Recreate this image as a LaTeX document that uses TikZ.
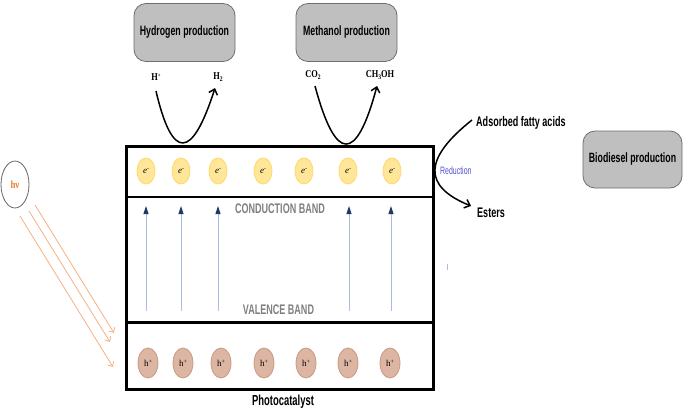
\documentclass[tikz,border=0pt]{standalone}
\usepackage{fontspec}
\setmainfont{Liberation Serif}
\newfontfamily\nsans[FakeStretch=0.65]{Liberation Sans}
\newfontfamily\tnarrow[FakeStretch=0.8]{Liberation Serif}
\usetikzlibrary{shapes.geometric,arrows.meta}
\definecolor{boxgray}{HTML}{BFBFBF}
\definecolor{boxedge}{HTML}{6E6E6E}
\definecolor{efill}{HTML}{FFE699}
\definecolor{eedge}{HTML}{FFD966}
\definecolor{hfill}{HTML}{DDB5A3}
\definecolor{hedge}{HTML}{C79B85}
\definecolor{arrline}{HTML}{A9BDE0}
\definecolor{arrhead}{HTML}{1F3864}
\definecolor{bandgray}{HTML}{7F7F7F}
\definecolor{redblue}{HTML}{5050D0}
\definecolor{orline}{HTML}{F4B183}
\definecolor{ortext}{HTML}{ED7D31}
\tikzset{
  procbox/.style={draw=boxedge, fill=boxgray, rounded corners=12pt, line width=0.8pt,
    minimum width=101pt, minimum height=58pt, inner sep=0pt, font=\nsans\bfseries\fontsize{13.5}{14}\selectfont},
  electron/.style={ellipse, draw=eedge, fill=efill, line width=0.8pt, minimum width=18pt,
    minimum height=26pt, inner sep=0pt, font=\fontsize{9}{10}\selectfont},
  hole/.style={ellipse, draw=hedge, fill=hfill, line width=0.8pt, minimum width=20pt,
    minimum height=30pt, inner sep=0pt, font=\fontsize{9}{10}\selectfont},
  chem/.style={inner sep=0pt, font=\tnarrow\bfseries\fontsize{10.5}{11}\selectfont},
  curvearrow/.style={line width=1.5pt, -{Straight Barb[length=5pt,width=9pt,line width=1.5pt]}},
  excite/.style={draw=arrline, line width=1pt, -{Triangle[length=8pt,width=5pt,color=arrhead]}},
  photon/.style={draw=orline, line width=0.8pt, -{Straight Barb[length=4pt,width=7pt]}},
  bandlabel/.style={text=bandgray, font=\nsans\bfseries\fontsize{13.9}{14}\selectfont, inner sep=0pt},
  plain/.style={font=\nsans\bfseries\fontsize{13.9}{14}\selectfont, inner sep=0pt}
}
\begin{document}
\begin{tikzpicture}[x=1pt,y=-1pt]
\useasboundingbox (0,0) rectangle (685,412);
% photocatalyst box
\draw[line width=3pt] (126.5,146) rectangle (433,389);
\draw[line width=2.5pt] (126.5,197) -- (433,197);
\draw[line width=2.5pt] (126.5,322.5) -- (433,322.5);
% production boxes
\node[procbox] (hyd) at (184.5,32.5) {Hydrogen production};
\node[procbox] (meth) at (346.5,32.5) {Methanol production};
\node[procbox, minimum width=99pt, minimum height=57pt] (bio) at (632.5,159.5) {Biodiesel production};
% electrons
\foreach \x [count=\i] in {146,181,218,263,304,348,392}
  \node[electron] (e\i) at (\x,171) {\textit{e}\raisebox{0.55ex}{\fontsize{6}{6}\selectfont -}};
% holes
\foreach \x [count=\i] in {148,183,221,264,306,348,390}
  \node[hole] (h\i) at (\x,363) {h\raisebox{0.6ex}{\fontsize{6}{6}\selectfont +}};
% excitation arrows
\foreach \x [count=\i] in {146,181,218,349,391} {
  \coordinate (vb\i) at (\x,311);
  \coordinate (cb\i) at (\x,206);
  \draw[excite] (vb\i) -- (cb\i);
}
\node[bandlabel] (cbl) at (280,209) {CONDUCTION BAND};
\node[bandlabel] (vbl) at (278.5,310) {VALENCE BAND};
\node[plain, font=\nsans\bfseries\fontsize{14.5}{15}\selectfont] (pc) at (283,402) {Photocatalyst};
% hydrogen reaction
\node[chem] (hplus) at (156,77) {H\raisebox{0.6ex}{\fontsize{6}{6}\selectfont +}};
\node[chem] (h2) at (218,77) {H\raisebox{-0.3ex}{\fontsize{7}{7}\selectfont 2}};
\coordinate (hs) at (156,91);
\coordinate (he) at (215,88);
\draw[curvearrow] (hs) .. controls (172.3,161) and (192,160) .. (he);
% methanol reaction
\node[chem] (co2) at (313,75) {CO\raisebox{-0.3ex}{\fontsize{7}{7}\selectfont 2}};
\node[chem] (ch3oh) at (380,75) {CH\raisebox{-0.3ex}{\fontsize{7}{7}\selectfont 3}OH};
\coordinate (ms) at (315,86);
\coordinate (me) at (377,86);
\draw[curvearrow] (ms) .. controls (335.7,163) and (356.3,163.3) .. (me);
% biodiesel reaction
\node[plain, anchor=west] (fa) at (476,123) {Adsorbed fatty acids};
\node[plain, anchor=west] (est) at (477,213) {Esters};
\node[inner sep=0pt, anchor=west, text=redblue, font=\nsans\fontsize{10.7}{11}\selectfont] (red) at (440,171) {Reduction};
\coordinate (rs) at (472,120);
\coordinate (re) at (471,206);
\draw[curvearrow] (rs) .. controls (423.3,158.7) and (422.7,186.3) .. (re);
% photon
\node[ellipse, draw=black!60, line width=0.8pt, minimum width=28pt, minimum height=47pt, inner sep=0pt,
  text=ortext, font=\tnarrow\bfseries\fontsize{11}{12}\selectfont] (hv) at (15,184.5) {hν};
\coordinate (p1s) at (35,205);  \coordinate (p1e) at (114,333);
\coordinate (p2s) at (29,211);  \coordinate (p2e) at (110,342);
\coordinate (p3s) at (20,216);  \coordinate (p3e) at (113,367);
\draw[photon] (p1s) -- (p1e);
\draw[photon] (p2s) -- (p2e);
\draw[photon] (p3s) -- (p3e);
% stray mark
\coordinate (m1) at (447,264);
\coordinate (m2) at (447,270);
\draw[arrline, line width=0.8pt] (m1) -- (m2);
\end{tikzpicture}
\end{document}
